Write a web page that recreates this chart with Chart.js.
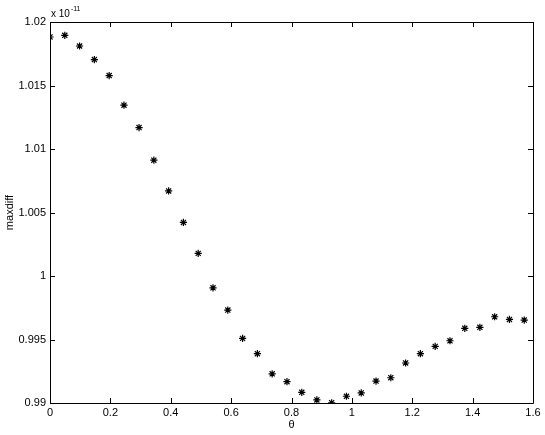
<!DOCTYPE html>
<html>
<head>
<meta charset="utf-8">
<title>maxdiff vs theta</title>
<script src="https://cdn.jsdelivr.net/npm/chart.js@4.4.1/dist/chart.umd.min.js"></script>
<style>
    body { margin: 0; background: #fff; }
    #chart { display: block; }
</style>
</head>
<body>
<canvas id="chart" width="545" height="435"></canvas>
<script>
// theta samples
const thetaValues = [0, 0.049, 0.098, 0.147, 0.196, 0.245, 0.295, 0.344, 0.393, 0.442,
    0.491, 0.540, 0.589, 0.638, 0.687, 0.736, 0.785, 0.834, 0.884, 0.933, 0.982,
    1.031, 1.080, 1.129, 1.178, 1.227, 1.276, 1.325, 1.374, 1.424, 1.473, 1.522, 1.571];

// maxdiff, in units of 10^-11
const maxdiffValues = [1.01882, 1.01895, 1.01811, 1.01704, 1.01578, 1.01345, 1.01169, 1.00912,
    1.00670, 1.00422, 1.00178, 0.99907, 0.99732, 0.99509, 0.99388, 0.99230, 0.99168,
    0.99084, 0.99024, 0.99002, 0.99053, 0.99079, 0.99173, 0.99199, 0.99315, 0.99388,
    0.99446, 0.99490, 0.99588, 0.99596, 0.99679, 0.99658, 0.99653];

const exponentLabel = '-11';
const xTicks = [0, 0.2, 0.4, 0.6, 0.8, 1, 1.2, 1.4, 1.6];
const yTicks = [0.99, 0.995, 1, 1.005, 1.01, 1.015, 1.02];

const font = { family: 'Liberation Sans, Arial, sans-serif', size: 11 };

// MATLAB style box with inward ticks on all four sides + the exponent label
const matlabBox = {
    id: 'matlabBox',
    afterDraw(chart) {
        const ctx = chart.ctx;
        const area = chart.chartArea;
        const xs = chart.scales.x;
        const ys = chart.scales.y;
        const len = 5;
        ctx.save();
        ctx.strokeStyle = '#000';
        ctx.lineWidth = 1;
        ctx.beginPath();
        ctx.rect(Math.round(area.left) + 0.5, Math.round(area.top) + 0.5,
            Math.round(area.right - area.left), Math.round(area.bottom - area.top));
        xTicks.forEach(t => {
            const px = Math.round(xs.getPixelForValue(t)) + 0.5;
            ctx.moveTo(px, area.bottom);
            ctx.lineTo(px, area.bottom - len);
            ctx.moveTo(px, area.top);
            ctx.lineTo(px, area.top + len);
        });
        yTicks.forEach(t => {
            const py = Math.round(ys.getPixelForValue(t)) + 0.5;
            ctx.moveTo(area.left, py);
            ctx.lineTo(area.left + len, py);
            ctx.moveTo(area.right, py);
            ctx.lineTo(area.right - len, py);
        });
        ctx.stroke();

        ctx.fillStyle = '#000';
        ctx.textBaseline = 'alphabetic';
        ctx.textAlign = 'left';
        ctx.font = '10px ' + font.family;
        ctx.fillText('x 10', area.left + 1, area.top - 5);
        const w = ctx.measureText('x 10').width;
        ctx.font = '7px ' + font.family;
        ctx.fillText(exponentLabel, area.left + 2 + w, area.top - 11);
        ctx.restore();
    }
};

const fmt = v => String(+Number(v).toFixed(3));

new Chart(document.querySelector('#chart').getContext('2d'), {
    type: 'scatter',
    data: {
        datasets: [{
            label: 'maxdiff',
            data: thetaValues.map((t, i) => ({ x: t, y: maxdiffValues[i] })),
            pointStyle: 'star',
            pointRadius: 3.6,
            borderColor: '#000',
            backgroundColor: '#000',
            borderWidth: 1.2,
            showLine: false
        }]
    },
    options: {
        responsive: false,
        animation: false,
        layout: { padding: { top: 22, right: 12, left: 0, bottom: 0 } },
        plugins: { legend: { display: false }, tooltip: { enabled: false } },
        scales: {
            x: {
                type: 'linear',
                min: 0,
                max: 1.6,
                afterFit: s => { s.height = 32; },
                afterBuildTicks: s => { s.ticks = xTicks.map(v => ({ value: v })); },
                grid: { display: false, drawTicks: false, tickLength: 0 },
                border: { display: false },
                ticks: { color: '#000', font: font, padding: 3, maxRotation: 0, callback: fmt },
                title: { display: true, text: 'θ', color: '#000', font: font, padding: { top: 0, bottom: 3 } }
            },
            y: {
                type: 'linear',
                min: 0.99,
                max: 1.02,
                afterFit: s => { s.width = 50; },
                afterBuildTicks: s => { s.ticks = yTicks.map(v => ({ value: v })); },
                grid: { display: false, drawTicks: false, tickLength: 0 },
                border: { display: false },
                ticks: { color: '#000', font: font, padding: 4, callback: fmt },
                title: { display: true, text: 'maxdiff', color: '#000', font: font, padding: { top: 3, bottom: 0 } }
            }
        }
    },
    plugins: [matlabBox]
});
</script>
</body>
</html>
